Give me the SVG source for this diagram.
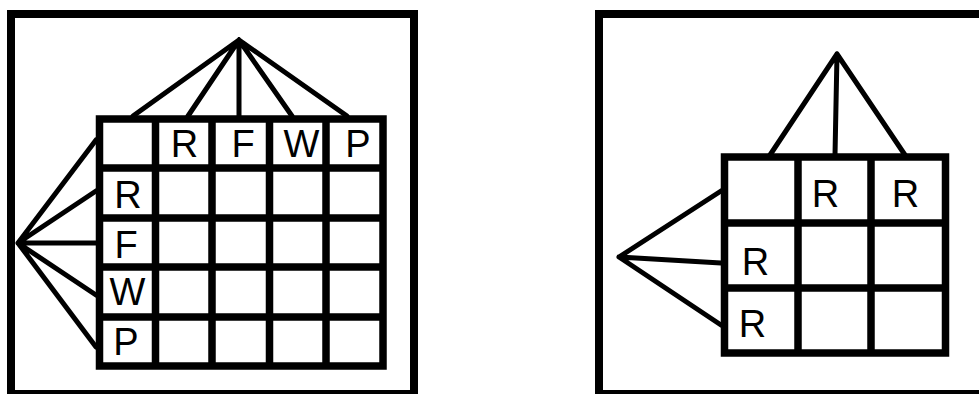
<svg xmlns="http://www.w3.org/2000/svg" width="979" height="394" viewBox="0 0 979 394">
<style>
.frame{fill:none;stroke:#000;stroke-width:8}
.grid{fill:none;stroke:#000;stroke-width:7.5}
.fan{stroke:#000;stroke-width:5;stroke-linecap:round;fill:none}
.lbl{font-family:"Liberation Sans",Arial,sans-serif;font-size:38px;fill:#000;text-anchor:middle}
</style>
<rect width="979" height="394" fill="#fff"/>
<g id="panel-left">
  <rect class="frame" x="11" y="14" width="403" height="380"/>
  <g id="grid-left">
    <rect class="grid" x="99.5" y="119" width="283.5" height="247"/>
    <path class="grid" d="M155.5 119V366M212 119V366M269.5 119V366M326 119V366M99.5 168H383M99.5 218H383M99.5 267H383M99.5 317H383"/>
  </g>
  <g id="labels-left">
    <text class="lbl" x="184.5" y="157">R</text>
    <text class="lbl" x="243" y="157">F</text>
    <text class="lbl" x="301.5" y="157">W</text>
    <text class="lbl" x="358" y="157">P</text>
    <text class="lbl" x="128" y="208">R</text>
    <text class="lbl" x="126" y="258">F</text>
    <text class="lbl" x="127.5" y="305">W</text>
    <text class="lbl" x="126" y="355">P</text>
  </g>
</g>
<g id="panel-right">
  <rect class="frame" x="599" y="14" width="500" height="380"/>
  <g id="grid-right">
    <rect class="grid" x="724.5" y="157" width="221" height="196"/>
    <path class="grid" d="M798 157V353M871 157V353M724.5 223H945.5M724.5 288H945.5"/>
  </g>
  <g id="labels-right">
    <text class="lbl" x="825.5" y="207">R</text>
    <text class="lbl" x="905.5" y="207">R</text>
    <text class="lbl" x="755.5" y="275">R</text>
    <text class="lbl" x="752.5" y="337">R</text>
  </g>
</g>
<g id="connectors">
  <path class="fan" d="M239 40L133 116M239 40L188 116M239 40L239 116M239 40L292 116M239 40L347 116"/>
  <path class="fan" d="M18 243L96 140M18 243L96 191M18 243L96 243M18 243L96 295M18 243L96 347"/>
  <path class="fan" d="M837 54L770 155M837 54L835 155M837 54L905 155"/>
  <path class="fan" d="M619 257L721 191M619 257L721 263M619 257L721 325"/>
</g>
</svg>
